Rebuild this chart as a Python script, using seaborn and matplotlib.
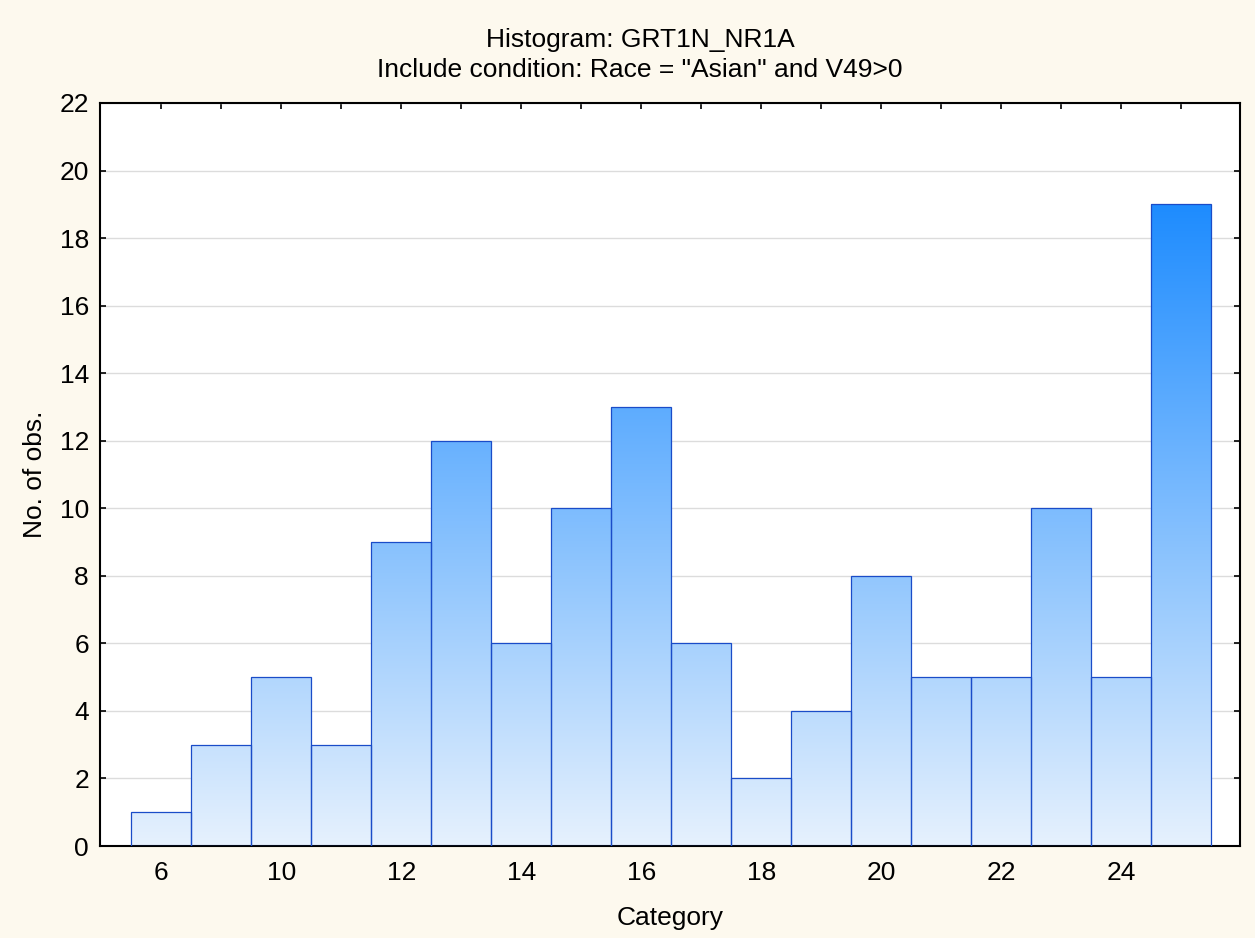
import numpy as np
import pandas as pd
import matplotlib
matplotlib.use("Agg")
import matplotlib.pyplot as plt
import seaborn as sns
from matplotlib.colors import LinearSegmentedColormap

# ---- data ----
categories = ["6", "9", "10", "11", "12", "13", "14", "15", "16", "17",
              "18", "19", "20", "21", "22", "23", "24", "25"]
counts = [1, 3, 5, 3, 9, 12, 6, 10, 13, 6, 2, 4, 8, 5, 5, 10, 5, 19]
tick_labels = ["6", "", "10", "", "12", "", "14", "", "16", "", "18", "",
               "20", "", "22", "", "24", ""]
y_ticks = [0, 2, 4, 6, 8, 10, 12, 14, 16, 18, 20, 22]
title_line1 = "Histogram: GRT1N_NR1A"
title_line2 = 'Include condition: Race = "Asian" and V49>0'

sns.set_theme(style="white")
plt.rcParams['font.family'] = ['Liberation Sans', 'DejaVu Sans']

FS = 19
W, H = 1255, 938
fig = plt.figure(figsize=(W / 100, H / 100), dpi=100, facecolor='#FDF9EE')
ax = fig.add_axes([100 / W, 1 - 846 / H, (1240 - 100) / W, (846 - 103) / H])
ax.set_facecolor('white')

df = pd.DataFrame({'Category': categories, 'count': counts})
sns.barplot(data=df, x='Category', y='count', order=categories, width=1.0,
            color='#8EC4FF', edgecolor='#1A4CC8', linewidth=0.9, ax=ax,
            zorder=2, saturation=1)

# gradient fill
cmap = LinearSegmentedColormap.from_list('g', ['#E6F1FD', '#1E8CFF'])
grad = np.linspace(0, 1, 256).reshape(-1, 1)
ymax_c = max(counts)
for p in list(ax.patches):
    x0 = p.get_x()
    w = p.get_width()
    im = ax.imshow(grad, cmap=cmap, origin='lower',
                   extent=[x0, x0 + w, 0, ymax_c], aspect='auto',
                   zorder=2.5, interpolation='bilinear')
    im.set_clip_path(p)
    p.set_facecolor('none')
    p.set_zorder(3)

ax.set_xlim(-1.02, 17.98)
ax.set_ylim(0, 22)
ax.set_yticks(y_ticks)
ax.set_xticks(range(len(categories)))
ax.set_xticklabels(tick_labels)

ax.yaxis.grid(True, color='#DCDCDC', linewidth=1.0)
ax.xaxis.grid(False)
ax.set_axisbelow(True)

for s in ax.spines.values():
    s.set_color('black')
    s.set_linewidth(1.5)
    s.set_visible(True)

ax.tick_params(direction='in', length=4, width=1.2, top=True, right=True,
               bottom=True, left=True, labelsize=FS, colors='black')
ax.tick_params(axis='x', pad=11)
ax.tick_params(axis='y', pad=8)

ax.set_xlabel('Category', fontsize=FS, labelpad=15, color='black')
ax.set_ylabel('No. of obs.', fontsize=FS, labelpad=9, color='black')

fig.text(640 / W, 1 - 40 / H, title_line1, ha='center', va='center',
         fontsize=FS, color='black')
fig.text(640 / W, 1 - 70 / H, title_line2, ha='center', va='center',
         fontsize=FS, color='black')

fig.savefig('out.png', dpi=100, facecolor=fig.get_facecolor())
